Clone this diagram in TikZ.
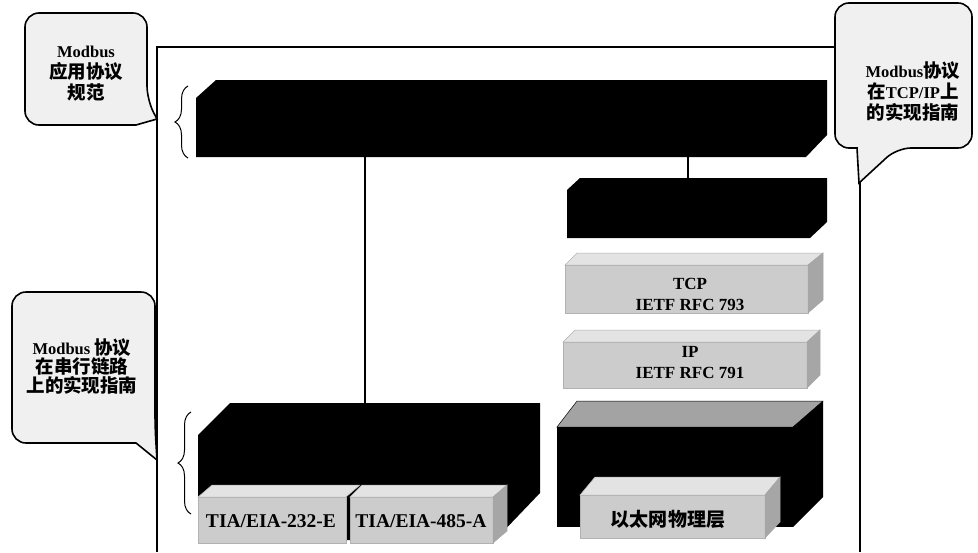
\documentclass[tikz,border=0pt]{standalone}
\usepackage{fontspec}
\setmainfont{Liberation Serif}
\newfontfamily\cjk[Scale=1.12]{Noto Sans CJK SC}
\newcommand\zh[1]{{\cjk #1}}
\usetikzlibrary{decorations.pathreplacing}

\begin{document}
\begin{tikzpicture}[x=1pt, y=-1pt,
  frame/.style={line width=2.3pt},
  blk/.style={fill=black},
  front/.style={fill=gray!40, draw=gray!60, line width=0.5pt},
  topface/.style={fill=gray!22, draw=gray!60, line width=0.5pt},
  sideface/.style={fill=gray!70, draw=gray!70, line width=0.5pt},
  darktop/.style={fill=gray!72, draw=black, line width=0.5pt},
  bubble/.style={fill=gray!12, draw=black, line width=1.6pt},
  link/.style={line width=1.2pt},
  curly/.style={decorate, decoration={brace, amplitude=13pt}, line width=1pt},
  note/.style={font=\bfseries\fontsize{16.5}{21}\selectfont, align=center, inner sep=0pt},
  boxlbl/.style={font=\bfseries\fontsize{17}{21}\selectfont, align=center, inner sep=0pt},
  tialbl/.style={font=\bfseries\fontsize{19.5}{21}\selectfont, inner sep=0pt}]
\useasboundingbox (0,0) rectangle (978,552);
\draw[frame] (157,552) -- (157,47) -- (860,47) -- (860,552);
\path[blk] (196,157) -- (196,98) -- (216,80) -- (827,80) -- (827,135) -- (806,157) -- cycle;
\path[blk] (567,238) -- (567,190) -- (580,178) -- (827,178) -- (827,222) -- (810,238) -- cycle;
\path[front] (565,265) rectangle (808,313);
\path[topface] (565,265) -- (577,253) -- (823,253) -- (808,265) -- cycle;
\path[sideface] (808,265) -- (823,253) -- (823,300) -- (808,313) -- cycle;
\path[front] (563,342) rectangle (807,388);
\path[topface] (563,342) -- (575,330) -- (820,330) -- (807,342) -- cycle;
\path[sideface] (807,342) -- (820,330) -- (820,375) -- (807,388) -- cycle;
\path[darktop] (557,427) -- (577,401) -- (823,401) -- (793,427) -- cycle;
\path[blk] (557,427) rectangle (793,527);
\path[blk] (793,427) -- (823,401) -- (823,497) -- (793,527) -- cycle;
\path[front] (580,495) rectangle (765,538);
\path[topface] (580,495) -- (595,477) -- (780,477) -- (765,495) -- cycle;
\path[sideface] (765,495) -- (780,477) -- (780,522) -- (765,538) -- cycle;
\path[blk] (198,540) -- (198,435) -- (230,403) -- (540,403) -- (540,493) -- (495,540) -- cycle;
\path[front] (198,497) rectangle (346,543);
\path[topface] (198,497) -- (212,485) -- (360,485) -- (346,497) -- cycle;
\path[front] (350,497) rectangle (493,543);
\path[topface] (350,497) -- (362,485) -- (507,485) -- (493,497) -- cycle;
\path[sideface] (493,497) -- (507,485) -- (507,531) -- (493,543) -- cycle;
\draw[curly] (188,158) -- (188,86);
\draw[curly] (191,514) -- (191,412);
\path[bubble] (86,13) [rounded corners=14pt] -- (147,13) -- (147,100) [sharp corners] -- (157,119) -- (136,125) [rounded corners=14pt] -- (25,125) -- (25,13) -- cycle;
\path[bubble] (903,3) [rounded corners=14pt] -- (972,3) -- (972,148) -- (897,148) [sharp corners] -- (859,183) -- (857,148) [rounded corners=14pt] -- (835,148) -- (835,3) -- cycle;
\path[bubble] (80,292) [rounded corners=14pt] -- (155,292) -- (155,428) [sharp corners] -- (157,460) -- (136,443) [rounded corners=14pt] -- (12,443) -- (12,292) -- cycle;
\coordinate (appL) at (365,157);
\coordinate (serialT) at (365,403);
\coordinate (appR) at (688,157);
\coordinate (tcpipT) at (688,178);
\draw[link] (appL) -- (serialT);
\draw[link] (appR) -- (tcpipT);
\node[note] (appnote) at (86,74) {Modbus\\\zh{应用协议}\\\zh{规范}};
\node[note] (tcpnote) at (913,91) {Modbus\zh{协议}\\\zh{在}TCP/IP\zh{上}\\\zh{的实现指南}};
\node[note, font=\bfseries\fontsize{16.5}{19}\selectfont] (serialnote) at (82,366) {Modbus \zh{协议}\\\zh{在串行链路}\\\zh{上的实现指南}};
\node[boxlbl] (tcp) at (690,294) {TCP\\IETF RFC 793};
\node[boxlbl] (ip) at (690,363) {IP\\IETF RFC 791};
\node[tialbl] (rs232) at (271,521) {TIA/EIA-232-E};
\node[tialbl] (rs485) at (421,521) {TIA/EIA-485-A};
\node[boxlbl] (eth) at (668,519) {\zh{以太网物理层}};
\end{tikzpicture}
\end{document}
